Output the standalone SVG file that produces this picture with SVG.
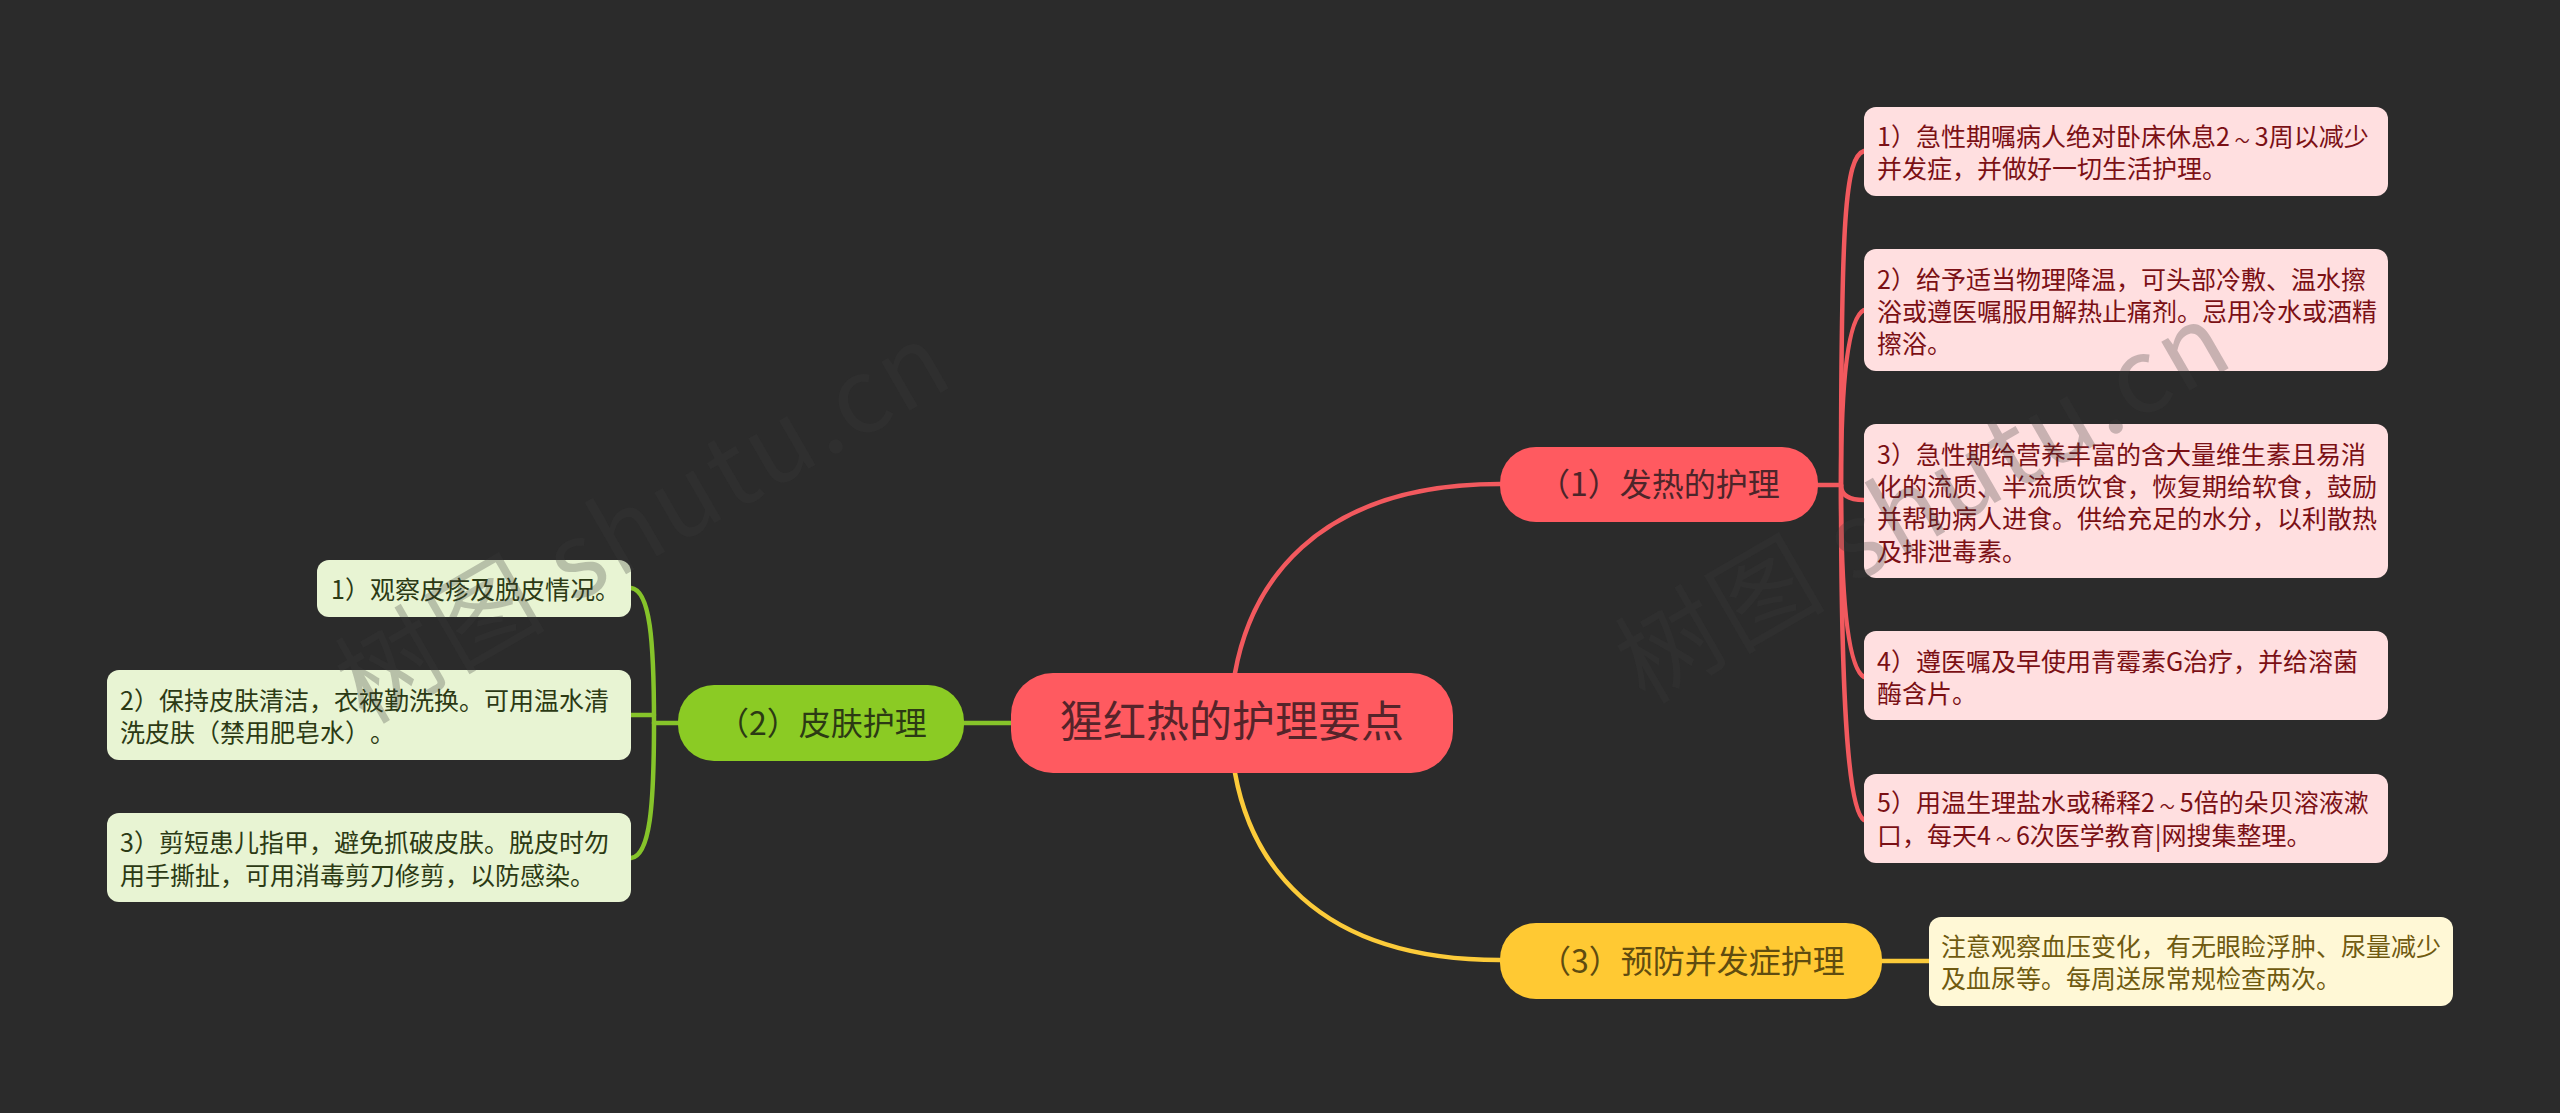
<svg xmlns="http://www.w3.org/2000/svg" width="2560" height="1113" viewBox="0 0 2560 1113">
<style>
text{font-family:"Noto Sans CJK SC","Noto Sans",sans-serif;text-spacing-trim:space-all}
.lr{fill:#ffdfe0}.lg{fill:#e8f4d3}.ly{fill:#fff8d6}
.tr{fill:#7b1015;font-size:25px}.tg{fill:#2c3a14;font-size:25px}.ty{fill:#6f5a10;font-size:25px}
.b{font-size:32px}
.w{font-size:15px}
.c{fill:none;stroke-linecap:round;stroke-width:4.5px}
.cr{stroke:#f2595e}.cg{stroke:#86c42a}.cy{stroke:#fccb3a}
.wm{font-size:104px;fill:#3a3a3a;fill-opacity:.28;letter-spacing:3px}
</style>
<rect width="2560" height="1113" fill="#2b2b2b"/>
<g id="connectors">
<path class="c cr" d="M1235 673C1250 590 1310 484 1500 484"/>
<path class="c cy" d="M1235 773C1250 856 1310 960 1500 960"/>
<path class="c cg" d="M964 723H1011"/>
<path class="c cg" d="M654 723H678"/>
<path class="c cg" d="M631 588C650 590 654 640 654 723"/>
<path class="c cg" d="M631 715H654"/>
<path class="c cg" d="M631 858C650 856 654 806 654 723"/>
<path class="c cr" d="M1817 485H1841"/>
<path class="c cr" d="M1864 151C1845 157 1841 220 1841 485"/>
<path class="c cr" d="M1864 310C1848 318 1841 380 1841 485"/>
<path class="c cr" d="M1864 500C1848 500 1841 495 1841 485"/>
<path class="c cr" d="M1864 677C1848 668 1841 600 1841 485"/>
<path class="c cr" d="M1864 820C1848 810 1841 700 1841 485"/>
<path class="c cy" d="M1882 961H1929"/>
</g>
<g id="root"><rect x="1011" y="673" width="442" height="100" rx="42" fill="#ff5a60"/><text x="1060" y="737" font-size="43" fill="#55242a">猩红热的护理要点</text></g>
<g id="b1"><rect x="1500" y="447" width="318" height="75" rx="36" fill="#ff5a60"/><text class="b" x="1538" y="496" fill="#4d252a">（1）发热的护理</text></g>
<g id="b2"><rect x="678" y="685" width="286" height="76" rx="36" fill="#8bcb24"/><text class="b" x="717" y="735" fill="#2c3a14">（2）皮肤护理</text></g>
<g id="b3"><rect x="1500" y="923" width="382" height="76" rx="36" fill="#ffc933"/><text class="b" x="1539" y="973" fill="#5f4c10">（3）预防并发症护理</text></g>
<g id="r1"><rect class="lr" x="1864" y="107" width="524" height="89" rx="12"/><text class="tr"><tspan x="1877" y="146">1）急性期嘱病人绝对卧床休息2<tspan class="w" dx="5">～</tspan><tspan dx="5">3周以减少</tspan></tspan><tspan x="1877" y="178">并发症，并做好一切生活护理。</tspan></text></g>
<g id="r2"><rect class="lr" x="1864" y="249" width="524" height="122" rx="12"/><text class="tr"><tspan x="1877" y="289">2）给予适当物理降温，可头部冷敷、温水擦</tspan><tspan x="1877" y="321">浴或遵医嘱服用解热止痛剂。忌用冷水或酒精</tspan><tspan x="1877" y="353">擦浴。</tspan></text></g>
<g id="r3"><rect class="lr" x="1864" y="424" width="524" height="154" rx="12"/><text class="tr"><tspan x="1877" y="464">3）急性期给营养丰富的含大量维生素且易消</tspan><tspan x="1877" y="496">化的流质、半流质饮食，恢复期给软食，鼓励</tspan><tspan x="1877" y="528">并帮助病人进食。供给充足的水分，以利散热</tspan><tspan x="1877" y="561">及排泄毒素。</tspan></text></g>
<g id="r4"><rect class="lr" x="1864" y="631" width="524" height="89" rx="12"/><text class="tr"><tspan x="1877" y="671">4）遵医嘱及早使用青霉素G治疗，并给溶菌</tspan><tspan x="1877" y="703">酶含片。</tspan></text></g>
<g id="r5"><rect class="lr" x="1864" y="774" width="524" height="89" rx="12"/><text class="tr"><tspan x="1877" y="812">5）用温生理盐水或稀释2<tspan class="w" dx="5">～</tspan><tspan dx="5">5倍的朵贝溶液漱</tspan></tspan><tspan x="1877" y="845">口，每天4<tspan class="w" dx="5">～</tspan><tspan dx="5">6次医学教育|网搜集整理。</tspan></tspan></text></g>
<g id="y1"><rect class="ly" x="1929" y="917" width="524" height="89" rx="12"/><text class="ty"><tspan x="1941" y="956">注意观察血压变化，有无眼睑浮肿、尿量减少</tspan><tspan x="1941" y="988">及血尿等。每周送尿常规检查两次。</tspan></text></g>
<g id="g1"><rect class="lg" x="317" y="560" width="314" height="57" rx="12"/><text class="tg" x="331" y="599">1）观察皮疹及脱皮情况。</text></g>
<g id="g2"><rect class="lg" x="107" y="670" width="524" height="90" rx="12"/><text class="tg"><tspan x="120" y="710">2）保持皮肤清洁，衣被勤洗换。可用温水清</tspan><tspan x="120" y="742">洗皮肤（禁用肥皂水）。</tspan></text></g>
<g id="g3"><rect class="lg" x="107" y="813" width="524" height="89" rx="12"/><text class="tg"><tspan x="120" y="852">3）剪短患儿指甲，避免抓破皮肤。脱皮时勿</tspan><tspan x="120" y="885">用手撕扯，可用消毒剪刀修剪，以防感染。</tspan></text></g>
<text class="wm" transform="translate(365 725) rotate(-30)">树图 shutu.cn</text>
<text class="wm" transform="translate(1645 705) rotate(-30)">树图 shutu.cn</text>
</svg>
